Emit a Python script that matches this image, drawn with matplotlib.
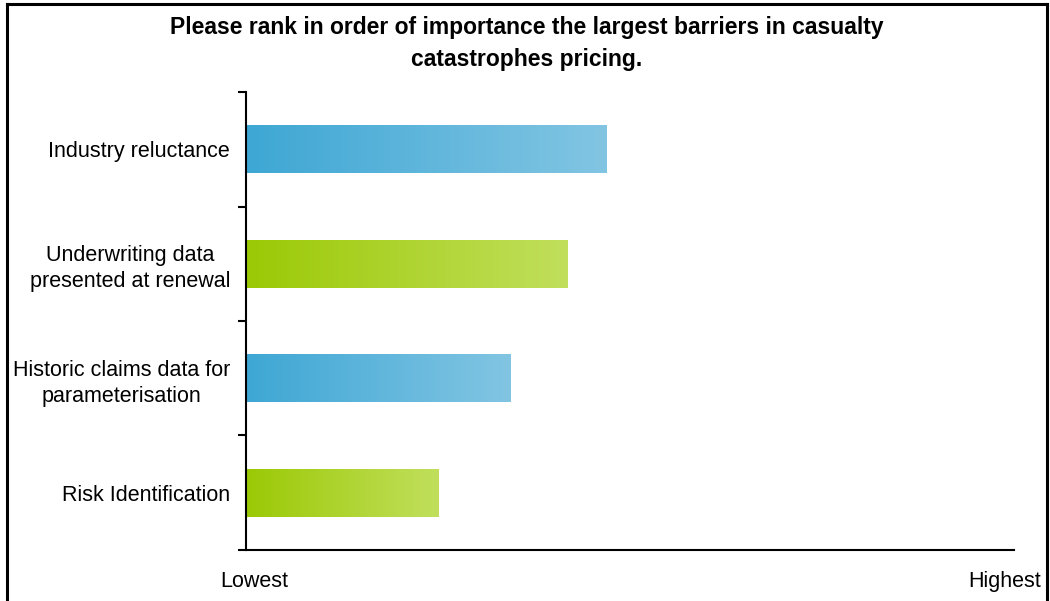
import numpy as np
import matplotlib.pyplot as plt
from matplotlib.colors import LinearSegmentedColormap
from matplotlib.lines import Line2D

plt.rcParams['font.family'] = ['Liberation Sans', 'DejaVu Sans']

# Barriers, top to bottom, and their average importance (0 = lowest, 10 = highest)
barriers = ['Industry reluctance',
            'Underwriting data\npresented at renewal',
            'Historic claims data for\nparameterisation',
            'Risk Identification']
scores = [4.70, 4.18, 3.45, 2.51]
bar_colors = [('#3ea7d4', '#82c5e3'), ('#9bc905', '#c1df5c'),
              ('#3ea7d4', '#82c5e3'), ('#9bc905', '#c1df5c')]

fig = plt.figure(figsize=(10.5, 6.01), dpi=100)
ax = fig.add_axes([0.2343, 0.0849, 0.7314, 0.762])

pos = np.arange(len(barriers))[::-1]
bars = ax.barh(pos, scores, height=0.42, color='none', edgecolor='none')

# fill each bar with a left-to-right gradient
grad = np.linspace(0, 1, 256).reshape(1, -1)
for bar, (c0, c1) in zip(bars, bar_colors):
    cmap = LinearSegmentedColormap.from_list('g', [c0, c1])
    x0, y0 = bar.get_x(), bar.get_y()
    w, h = bar.get_width(), bar.get_height()
    im = ax.imshow(grad, cmap=cmap, aspect='auto',
                   extent=[x0, x0 + w, y0, y0 + h], zorder=2)
    im.set_clip_path(bar)

ax.set_xlim(0, 10)
ax.set_ylim(-0.5, len(barriers) - 0.5)

ax.set_yticks(pos)
ax.set_yticklabels(barriers, fontsize=15.5, ha='right', multialignment='center',
                   linespacing=1.3)
ax.tick_params(axis='y', which='major', length=0, pad=11.5)
ax.set_yticks(np.arange(-0.5, len(barriers), 1), minor=True)
ax.tick_params(axis='y', which='minor', length=6, width=1.5, direction='out')
ax.set_xticks([])

for side in ['top', 'right']:
    ax.spines[side].set_visible(False)
for side in ['left', 'bottom']:
    ax.spines[side].set_linewidth(1.5)

fig.text(0.242, 0.033, 'Lowest', fontsize=15.5, ha='center', va='center')
fig.text(0.957, 0.033, 'Highest', fontsize=15.5, ha='center', va='center')

fig.text(0.502, 0.9276,
         'Please rank in order of importance the largest barriers in casualty\ncatastrophes pricing.',
         fontsize=16.5, fontweight='bold', ha='center', va='center', linespacing=1.45)

# outer frame (open at the bottom)
frame = dict(color='black', linewidth=2.2, transform=fig.transFigure)
fig.add_artist(Line2D([0.0067, 0.0067], [0, 0.9933], **frame))
fig.add_artist(Line2D([0.0067, 0.9971], [0.9933, 0.9933], **frame))
fig.add_artist(Line2D([0.9971, 0.9971], [0, 0.9933], **frame))

fig.savefig('out.png', dpi=100)
